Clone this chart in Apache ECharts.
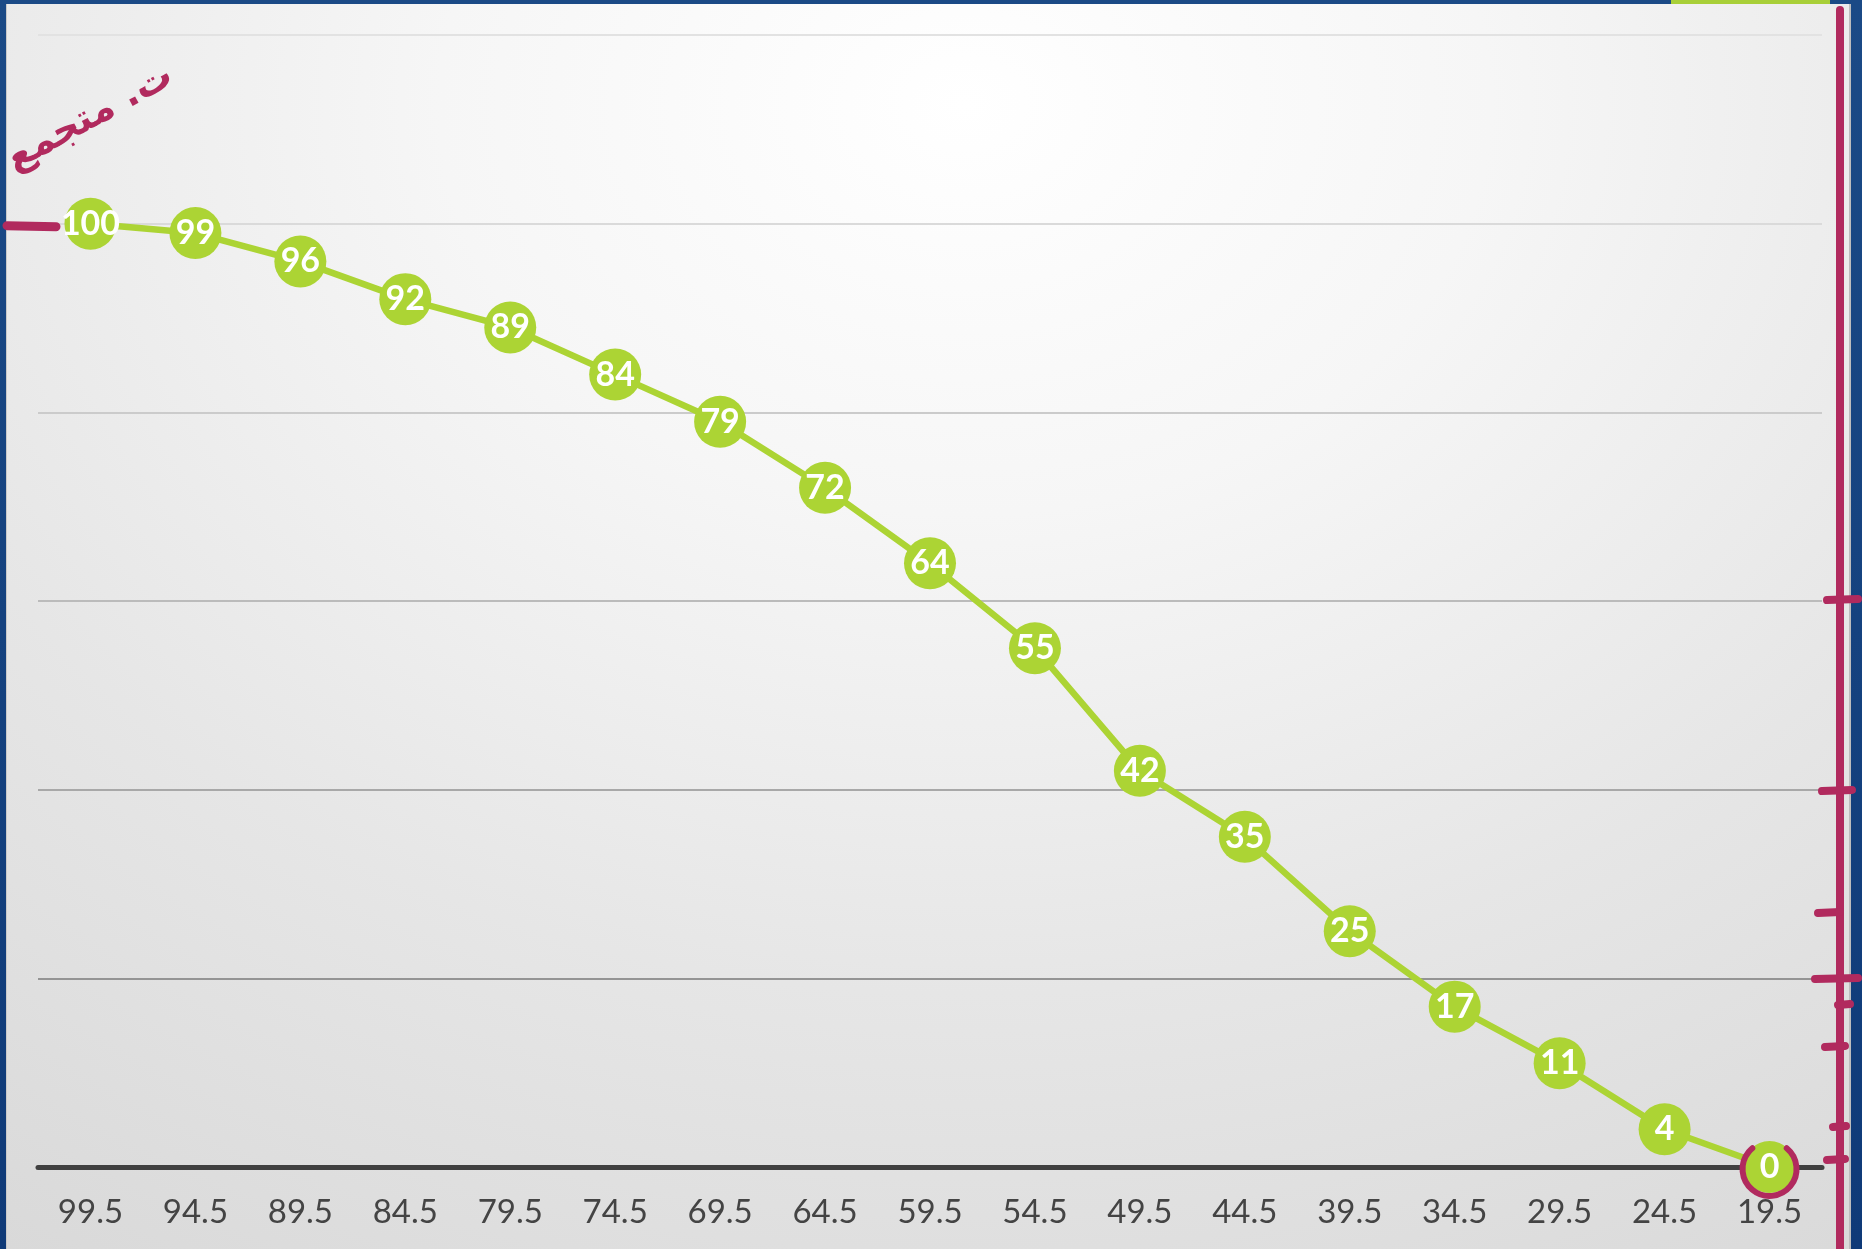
<!DOCTYPE html>
<html>
<head>
<meta charset="utf-8">
<script src="https://cdn.jsdelivr.net/npm/echarts@6/dist/echarts.min.js"></script>
<style>
  html, body { margin:0; padding:0; width:1862px; height:1249px; overflow:hidden;
    background: linear-gradient(180deg, #1b4a86 0%, #0f3a78 100%); }
  #panel { position:absolute; left:6px; top:4px; width:1845px; height:1245px;
    background: radial-gradient(ellipse 95% 110% at 52% 8%, #ffffff 0%, #f6f6f6 30%, #e6e6e6 65%, #d9d9d9 100%);
    border-left:1px solid #c9c9c9; border-right:2px solid #bdbdbd; box-sizing:border-box; }
  #topgreen { position:absolute; left:1671px; top:0; width:159px; height:4px; background:#a8cf38; }
  #chart { position:absolute; left:0; top:0; width:1862px; height:1249px; }
</style>
</head>
<body>
<div id="panel"></div>
<div id="topgreen"></div>
<div id="chart"></div>
<script>
const categories = ['99.5','94.5','89.5','84.5','79.5','74.5','69.5','64.5','59.5','54.5','49.5','44.5','39.5','34.5','29.5','24.5','19.5'];
const cumulative = [100, 99, 96, 92, 89, 84, 79, 72, 64, 55, 42, 35, 25, 17, 11, 4, 0];
const yTicks = [0, 20, 40, 60, 80, 100, 120];

const MAG = '#b12a5e';
const chart = echarts.init(document.getElementById('chart'), null, {renderer:'canvas'});

const option = {
  backgroundColor: 'transparent',
  animation: false,
  grid: { left: 38, right: 40, top: 35, bottom: 82, containLabel: false },
  xAxis: {
    type: 'category',
    data: categories,
    boundaryGap: true,
    axisLine: { show: true, lineStyle: { color: '#404040', width: 5 } },
    axisTick: { show: false },
    axisLabel: { color: '#444444', fontSize: 33, fontWeight: 400, fontFamily: 'Lato, sans-serif', margin: 29 },
    splitLine: { show: false }
  },
  yAxis: {
    type: 'value',
    min: yTicks[0],
    max: yTicks[yTicks.length - 1],
    interval: 20,
    axisLine: { show: false },
    axisTick: { show: false },
    axisLabel: { show: false },
    splitLine: { show: true, lineStyle: { width: 2,
      color: ['#404040', '#949494', '#a8a8a8', '#bbbbbb', '#cbcbcb', '#dadada', '#e2e2e2'] } }
  },
  series: [{
    type: 'line',
    data: cumulative,
    z: 5,
    symbol: 'circle',
    symbolSize: 52,
    lineStyle: { color: '#acd434', width: 6.5 },
    itemStyle: { color: '#acd434' },
    label: {
      show: true, position: 'inside', color: '#ffffff', fontWeight: 'bold',
      fontSize: 34, fontFamily: 'Lato, Noto Sans, sans-serif'
    }
  }]
};
chart.setOption(option);

// handwritten annotations (decoration)
const zeroPt = chart.convertToPixel({xAxisIndex:0, yAxisIndex:0}, [categories.length - 1, 0]);
const hundredPt = chart.convertToPixel({xAxisIndex:0, yAxisIndex:0}, [0, 100]);
const rx = 1840;
const tickMarks = [[600,1827,1858],[791,1822,1852],[913,1818,1840],[979,1815,1858],[1005,1838,1850],[1047,1825,1845],[1127,1833,1846],[1160,1827,1845]];
const pen = { stroke: MAG, lineWidth: 8, lineCap: 'round' };
const gfx = [
  { type:'line', z:100, shape:{x1:rx, y1:10, x2:rx, y2:1260}, style: pen },
  { type:'line', z:100, shape:{x1:7, y1:hundredPt[1]+2, x2:56, y2:hundredPt[1]+3}, style: Object.assign({}, pen, {lineWidth:9}) },
  { type:'arc', z:100, shape:{cx:zeroPt[0], cy:zeroPt[1]+2, r:27, startAngle:-Math.PI*0.28, endAngle:-Math.PI*0.72, clockwise:true},
    style: { stroke: MAG, lineWidth: 6, fill: null, lineCap:'round' } },
  { type:'text', z:100, x:90, y:118, rotation:0.5,
    style:{ text:'ت. متجمع', fill: MAG, font:'bold 38px "DejaVu Sans", sans-serif', textAlign:'center', textVerticalAlign:'middle' } }
];
tickMarks.forEach(t => gfx.push({ type:'line', z:100, shape:{x1:t[1], y1:t[0], x2:t[2], y2:t[0]-1}, style: pen }));
chart.setOption({ graphic: gfx });
</script>
</body>
</html>
